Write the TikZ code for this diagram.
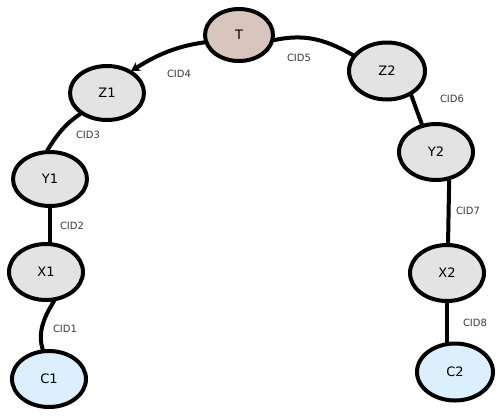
\documentclass[tikz,border=0pt]{standalone}
\usepackage{fontspec}
\setmainfont{DejaVu Sans}
\usetikzlibrary{shapes.geometric,arrows.meta}
\definecolor{nodegray}{HTML}{E3E3E3}
\definecolor{nodeT}{HTML}{D8C5BD}
\definecolor{nodeC}{HTML}{DBEFFD}
\definecolor{lbl}{HTML}{3A3A3A}
\tikzset{
  vert/.style={ellipse, draw=black, line width=4pt, fill=nodegray, minimum width=74pt, minimum height=54pt, inner sep=0pt, font=\fontsize{13}{15}\selectfont},
  vertT/.style={vert, fill=nodeT, minimum width=68pt, minimum height=52pt},
  vertC/.style={vert, fill=nodeC},
  link/.style={line width=4pt, line cap=round},
  cid/.style={text=lbl, font=\fontsize{10}{11}\selectfont, inner sep=0pt}
}
\begin{document}
\begin{tikzpicture}[x=1pt,y=-1pt]
\useasboundingbox (0,0) rectangle (500,416);
\node[vertT] (T) at (239,35) {T};
\node[vert] (Z1) at (107,93) {Z1};
\node[vert] (Y1) at (50,179) {Y1};
\node[vert, minimum height=56pt] (X1) at (46,272) {X1};
\node[vertC, minimum height=56pt] (C1) at (49,379) {C1};
\node[vert, minimum width=76pt, minimum height=57pt] (Z2) at (387,71) {Z2};
\node[vert, minimum height=56pt] (Y2) at (436,152) {Y2};
\node[vert, minimum height=56pt] (X2) at (447,273) {X2};
\node[vertC, minimum width=76pt, minimum height=57pt] (C2) at (455,372) {C2};

\draw[link, -{Stealth[length=9pt,width=10pt]}, shorten >=-1pt] (T.192) .. controls (178,46) and (158,54) .. (Z1.42);
\draw[link] (T.-8) .. controls (300,35) and (320,36) .. (Z2.155);
\draw[link] (Z1.218) .. controls (64,125) and (57,135) .. (Y1.95);
\draw[link] (Y1.south) -- (X1.north -| Y1.south);
\draw[link] (X1.285) .. controls (42,320) and (38,335) .. (C1.102);
\draw[link] (Z2.-45) -- (Y2.117);
\draw[link] (Y2.295) -- (X2.88);
\draw[link] (X2.south) -- (C2.north -| X2.south);

\node[cid] (l1) at (65,329) {CID1};
\node[cid] (l2) at (72,226) {CID2};
\node[cid] (l3) at (88,135) {CID3};
\node[cid] (l4) at (179,74) {CID4};
\node[cid] (l5) at (299,58) {CID5};
\node[cid] (l6) at (452,99) {CID6};
\node[cid] (l7) at (468,211) {CID7};
\node[cid] (l8) at (475,323) {CID8};
\end{tikzpicture}
\end{document}
